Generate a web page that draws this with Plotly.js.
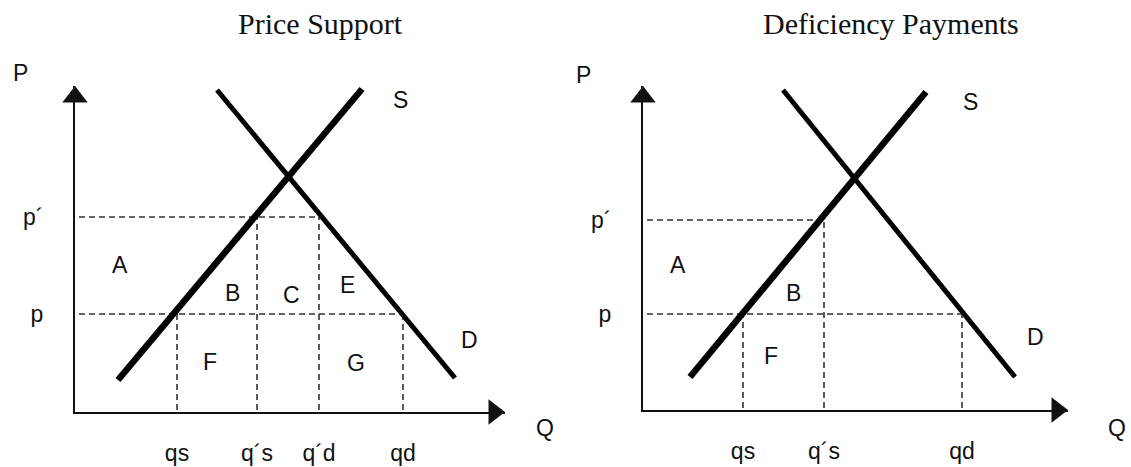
<!DOCTYPE html>
<html>
<head>
<meta charset="utf-8">
<script src="https://cdn.plot.ly/plotly-3.0.1.min.js"></script>
<style>
  html, body { margin: 0; padding: 0; background: #fff; }
  #chart { width: 1131px; height: 467px; }
</style>
</head>
<body>
<div id="chart"></div>
<script>
// ------------------------
// Data (1 unit = 10 px on screen)
// ------------------------

// Price Support panel
var psSupplyQ = [4.3, 28.7];
var psSupplyP = [3.2, 32.3];
var psDemandQ = [14.2, 38.0];
var psDemandP = [32.2, 3.4];
var psPrices = [9.8, 19.5];              // p, p´
var psQuantities = [10.2, 18.2, 24.4, 32.8]; // qs, q´s, q´d, qd
var psQLabels = ["qs", "q\u00B4s", "q\u00B4d", "qd"];
var psAxisMax = [43.0, 32.6];            // Q end, P end

// Deficiency Payments panel
var dpSupplyQ = [4.7, 28.3];
var dpSupplyP = [3.3, 31.8];
var dpDemandQ = [14.0, 37.2];
var dpDemandP = [32.0, 3.3];
var dpPrices = [9.6, 19.0];              // p, p´
var dpQuantities = [10.0, 18.1, 31.9];   // qs, q´s, qd
var dpQLabels = ["qs", "q\u00B4s", "qd"];
var dpAxisMax = [42.5, 32.4];

var pLabels = ["p", "p\u00B4"];

// ------------------------
// helpers
// ------------------------
var W = 1131, H = 467;
var INK = "#111";
var SANS = "Liberation Sans, Arial, sans-serif";
var SERIF = "Liberation Serif, Times New Roman, serif";
var FS = 23;
var ARROW = 22;               // marker size of arrowheads
var ARROW_OFF = ARROW / 20;   // half marker size in data units

function pos(x, y) { return {x: x / W, y: 1 - y / H}; }

function label(text, x, y) {
  var p = pos(x, y);
  return {
    text: text, x: p.x, y: p.y, xref: "paper", yref: "paper",
    showarrow: false, xanchor: "center", yanchor: "middle",
    font: {family: SANS, size: FS, color: INK}
  };
}

function title(text, x, y) {
  var a = label(text, x, y);
  a.font = {family: SERIF, size: 30, color: INK};
  return a;
}

function dashTrace(prices, quantities, hLines, vLines, xa, ya) {
  // hLines: [priceIndex, quantityIndex]; vLines: [quantityIndex, priceIndex]
  var x = [], y = [];
  hLines.forEach(function (h) {
    x.push(0.4, quantities[h[1]], null);
    y.push(prices[h[0]], prices[h[0]], null);
  });
  vLines.forEach(function (v) {
    x.push(quantities[v[0]], quantities[v[0]], null);
    y.push(0.2, prices[v[1]], null);
  });
  return {
    x: x, y: y, xaxis: xa, yaxis: ya, mode: "lines", type: "scatter",
    line: {color: "#333", width: 1.6, dash: "6px,4px"}, hoverinfo: "skip"
  };
}

function curve(q, p, w, xa, ya) {
  return {
    x: q, y: p, xaxis: xa, yaxis: ya, mode: "lines", type: "scatter",
    line: {color: "#000", width: w}, hoverinfo: "skip"
  };
}

function arrows(axisMax, xa, ya) {
  return {
    x: [axisMax[0] - ARROW_OFF, 0],
    y: [0, axisMax[1] - ARROW_OFF],
    xaxis: xa, yaxis: ya, mode: "markers", type: "scatter", cliponaxis: false,
    marker: {symbol: ["triangle-right", "triangle-up"], size: ARROW, color: INK, line: {width: 0}},
    hoverinfo: "skip"
  };
}

var traces = [
  dashTrace(psPrices, psQuantities, [[0, 3], [1, 2]], [[0, 0], [1, 1], [2, 1], [3, 0]], "x", "y"),
  curve(psDemandQ, psDemandP, 5, "x", "y"),
  curve(psSupplyQ, psSupplyP, 6.5, "x", "y"),
  arrows(psAxisMax, "x", "y"),

  dashTrace(dpPrices, dpQuantities, [[0, 2], [1, 1]], [[0, 0], [1, 1], [2, 0]], "x2", "y2"),
  curve(dpDemandQ, dpDemandP, 5, "x2", "y2"),
  curve(dpSupplyQ, dpSupplyP, 6.5, "x2", "y2"),
  arrows(dpAxisMax, "x2", "y2")
];

function xAxis(x0, axisMax, vals, text, anchor) {
  return {
    domain: [x0 / W, (x0 + axisMax[0] * 10) / W], range: [0, axisMax[0]], anchor: anchor,
    showline: true, linewidth: 2, linecolor: INK, showgrid: false, zeroline: false,
    tickvals: vals, ticktext: text, ticks: "outside", ticklen: 19,
    tickcolor: "rgba(0,0,0,0)", tickfont: {family: SANS, size: FS, color: INK},
    fixedrange: true
  };
}

function yAxis(y0, axisMax, vals, anchor) {
  return {
    domain: [(H - y0) / H, (H - y0 + axisMax[1] * 10) / H], range: [0, axisMax[1]], anchor: anchor,
    showline: true, linewidth: 2, linecolor: INK, showgrid: false, zeroline: false,
    tickvals: vals, ticktext: pLabels, ticks: "outside", ticklen: 25,
    tickcolor: "rgba(0,0,0,0)", tickfont: {family: SANS, size: FS, color: INK},
    fixedrange: true
  };
}

var annotations = [
  title("Price Support", 320, 24),
  title("Deficiency Payments", 891, 24),

  // Price Support labels
  label("P", 20, 73), label("Q", 545, 428),
  label("S", 400, 100), label("D", 469, 340),
  label("A", 120, 265), label("B", 232, 293), label("C", 291, 295),
  label("E", 347, 285), label("F", 210, 362), label("G", 356, 363),

  // Deficiency Payments labels
  label("P", 583, 75), label("Q", 1117, 428),
  label("S", 970, 102), label("D", 1035, 337),
  label("A", 678, 265), label("B", 793, 293), label("F", 771, 356)
];

var layout = {
  width: W, height: H,
  margin: {l: 0, r: 0, t: 0, b: 0},
  paper_bgcolor: "#fff", plot_bgcolor: "rgba(0,0,0,0)",
  showlegend: false, hovermode: false,
  xaxis: xAxis(75, psAxisMax, psQuantities, psQLabels, "y"),
  yaxis: yAxis(412, psAxisMax, psPrices, "x"),
  xaxis2: xAxis(643, dpAxisMax, dpQuantities, dpQLabels, "y2"),
  yaxis2: yAxis(410, dpAxisMax, dpPrices, "x2"),
  annotations: annotations
};

Plotly.newPlot("chart", traces, layout, {staticPlot: true, displayModeBar: false});
</script>
</body>
</html>
